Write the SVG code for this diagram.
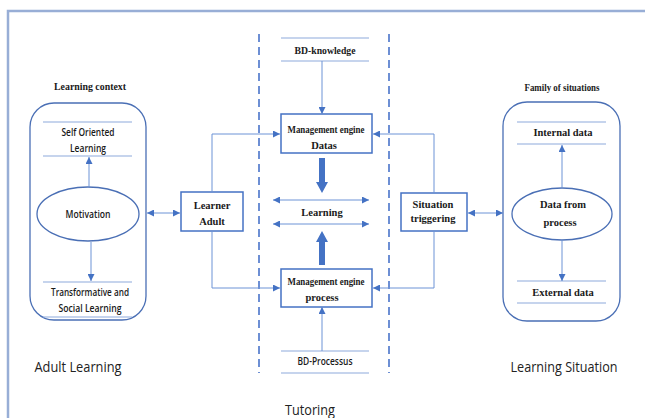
<svg xmlns="http://www.w3.org/2000/svg" width="645" height="418" viewBox="0 0 645 418">
<defs>
<marker id="ah" viewBox="0 0 10 10" refX="10" refY="5" markerWidth="7" markerHeight="7" markerUnits="userSpaceOnUse" orient="auto-start-reverse">
<path d="M0,0 L10,5 L0,10 z" fill="#4472c4"/>
</marker>
<style>
.bx{fill:#fff;stroke:#4472c4;stroke-width:1.5}
.rr{fill:none;stroke:#4a6fb5;stroke-width:1.3}
.sep{stroke:#8eaadb;stroke-width:1.2}
.cn{fill:none;stroke:#6d93d6;stroke-width:1}
.dash{stroke:#6d8fd4;stroke-width:2;stroke-dasharray:8 5}
.frame{stroke:#98aed6;stroke-width:2.5;fill:none}
.tb{font-family:"Liberation Serif",serif;font-weight:bold;font-size:10.5px;fill:#1a1a1a;text-anchor:middle}
.ts{font-family:"Open Sans","Liberation Sans",sans-serif;font-weight:600;font-size:10px;fill:#1a1a1a;text-anchor:middle}
.tl{font-family:"Open Sans","Liberation Sans",sans-serif;font-size:15px;fill:#222;text-anchor:middle}
.thick{fill:#4472c4}
</style>
</defs>

<path class="frame" d="M8,418 V11 H645"/>

<g id="dividers">
<line class="dash" x1="259" y1="34" x2="259" y2="373"/>
<line class="dash" x1="389" y1="34" x2="389" y2="373"/>
</g>

<g id="learning-context">
<text class="tb" x="90" y="90" textLength="72" lengthAdjust="spacingAndGlyphs">Learning context</text>
<rect class="rr" x="30" y="103" width="116" height="217" rx="24"/>
</g>
<g id="self-oriented">
<line class="sep" x1="43" y1="122" x2="132" y2="122"/>
<line class="sep" x1="43" y1="156" x2="132" y2="156"/>
<text class="ts" x="88" y="136" textLength="53" lengthAdjust="spacingAndGlyphs">Self Oriented</text>
<text class="ts" x="88" y="152" textLength="36" lengthAdjust="spacingAndGlyphs">Learning</text>
</g>
<g id="motivation">
<ellipse class="rr" cx="88" cy="214" rx="51" ry="27"/>
<text class="ts" x="88" y="218" textLength="45" lengthAdjust="spacingAndGlyphs">Motivation</text>
</g>
<g id="transformative">
<line class="sep" x1="43" y1="282" x2="132" y2="282"/>
<line class="sep" x1="43" y1="317" x2="132" y2="317"/>
<text class="ts" x="90" y="296" textLength="78" lengthAdjust="spacingAndGlyphs">Transformative and</text>
<text class="ts" x="90" y="312" textLength="63" lengthAdjust="spacingAndGlyphs">Social  Learning</text>
</g>

<g id="learner-adult">
<rect class="bx" x="181" y="192" width="62" height="39"/>
<text class="tb" x="212" y="209">Learner</text>
<text class="tb" x="212" y="225">Adult</text>
</g>

<g id="bd-knowledge">
<line class="sep" x1="281" y1="38" x2="369" y2="38"/>
<line class="sep" x1="281" y1="61" x2="369" y2="61"/>
<text class="tb" x="325" y="54" textLength="61" lengthAdjust="spacingAndGlyphs">BD-knowledge</text>
</g>
<g id="engine-datas">
<rect class="bx" x="281" y="114" width="91" height="39"/>
<text class="tb" x="326" y="133" textLength="77" lengthAdjust="spacingAndGlyphs">Management engine</text>
<text class="tb" x="324" y="149">Datas</text>
</g>
<g id="learning">
<text class="tb" x="322" y="216">Learning</text>
</g>
<g id="engine-process">
<rect class="bx" x="281" y="269" width="91" height="38"/>
<text class="tb" x="326" y="285" textLength="77" lengthAdjust="spacingAndGlyphs">Management engine</text>
<text class="tb" x="322" y="301">process</text>
</g>
<g id="bd-processus">
<line class="sep" x1="281" y1="351" x2="369" y2="351"/>
<line class="sep" x1="281" y1="373" x2="369" y2="373"/>
<text class="ts" x="325" y="365" textLength="55" lengthAdjust="spacingAndGlyphs">BD-Processus</text>
</g>

<g id="situation-triggering">
<rect class="bx" x="401" y="193" width="66" height="38"/>
<text class="tb" x="433" y="208">Situation</text>
<text class="tb" x="433" y="222">triggering</text>
</g>

<g id="family-of-situations">
<text class="tb" x="562" y="91" textLength="75" lengthAdjust="spacingAndGlyphs">Family of situations</text>
<rect class="rr" x="503" y="102" width="117" height="219" rx="24"/>
</g>
<g id="internal-data">
<line class="sep" x1="517" y1="122" x2="606" y2="122"/>
<line class="sep" x1="517" y1="144" x2="606" y2="144"/>
<text class="tb" x="563" y="136">Internal data</text>
</g>
<g id="data-from-process">
<ellipse class="rr" cx="562" cy="214" rx="50" ry="26"/>
<text class="tb" x="563" y="208">Data from</text>
<text class="tb" x="560" y="226">process</text>
</g>
<g id="external-data">
<line class="sep" x1="517" y1="281" x2="606" y2="281"/>
<line class="sep" x1="517" y1="303" x2="606" y2="303"/>
<text class="tb" x="563" y="296">External data</text>
</g>

<g id="connectors">
<line class="cn" x1="89" y1="187" x2="89" y2="157" marker-end="url(#ah)"/>
<line class="cn" x1="91" y1="242" x2="91" y2="281" marker-end="url(#ah)"/>
<line class="cn" x1="147" y1="213" x2="180" y2="213" marker-start="url(#ah)" marker-end="url(#ah)"/>
<path class="cn" d="M212,192 V134 H280" marker-end="url(#ah)"/>
<path class="cn" d="M212,231 V288 H280" marker-end="url(#ah)"/>
<line class="cn" x1="322" y1="61" x2="322" y2="114" marker-end="url(#ah)"/>
<line class="cn" x1="322" y1="351" x2="322" y2="307" marker-end="url(#ah)"/>
<line class="cn" x1="273" y1="200" x2="369" y2="200" marker-start="url(#ah)" marker-end="url(#ah)"/>
<line class="cn" x1="273" y1="224" x2="369" y2="224" marker-start="url(#ah)" marker-end="url(#ah)"/>
<path class="cn" d="M434,193 V134 H373" marker-end="url(#ah)"/>
<path class="cn" d="M434,231 V288 H373" marker-end="url(#ah)"/>
<line class="cn" x1="468" y1="213" x2="503" y2="213" marker-start="url(#ah)" marker-end="url(#ah)"/>
<line class="cn" x1="562" y1="188" x2="562" y2="145" marker-end="url(#ah)"/>
<line class="cn" x1="562" y1="240" x2="562" y2="281" marker-end="url(#ah)"/>
<polygon class="thick" points="319,158 325,158 325,182 328,182 322,193 316,182 319,182"/>
<polygon class="thick" points="322,231 328,242 325,242 325,265 319,265 319,242 316,242"/>
</g>

<g id="labels">
<text class="tl" x="78" y="372" textLength="87" lengthAdjust="spacingAndGlyphs">Adult Learning</text>
<text class="tl" x="564" y="372" textLength="107" lengthAdjust="spacingAndGlyphs">Learning Situation</text>
<text class="tl" x="310" y="415" textLength="50" lengthAdjust="spacingAndGlyphs">Tutoring</text>
</g>
</svg>
